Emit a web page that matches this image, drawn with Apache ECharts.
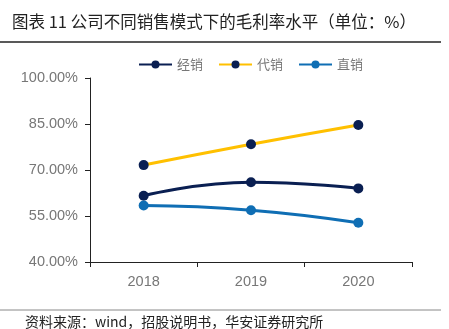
<!DOCTYPE html>
<html><head><meta charset="utf-8">
<script src="https://cdn.jsdelivr.net/npm/echarts@6/dist/echarts.min.js"></script>
<style>html,body{margin:0;padding:0;background:#fff}#c{width:449px;height:329px}</style>
</head><body><div id="c"></div>
<script>
const categories = ['2018', '2019', '2020'];
const seriesNames = ['经销', '代销', '直销'];
const jingxiao = [61.6, 66.0, 64.0];
const daixiao = [71.6, 78.4, 84.7];
const zhixiao = [58.4, 56.9, 52.8];
const yTicks = [40, 55, 70, 85, 100];

const navy = '#0A1F52', yellow = '#FFC000', blue = '#0F6EB4';
const chart = echarts.init(document.getElementById('c'));
const font = '"Liberation Sans", Arial, "Noto Sans CJK SC", sans-serif';
const cjk = '"Noto Sans CJK SC", sans-serif';
chart.setOption({
  animation: false,
  textStyle: {fontFamily: font},
  title: {
    text: '图表 11 公司不同销售模式下的毛利率水平（单位：%）',
    left: 7, top: 8,
    textStyle: {fontSize: 16.5, fontWeight: 'normal', color: '#222', fontFamily: cjk}
  },
  graphic: [
    {type: 'line', shape: {x1: 0, y1: 42, x2: 441, y2: 42}, style: {stroke: '#222', lineWidth: 1.5}},
    {type: 'line', shape: {x1: 0, y1: 310, x2: 441, y2: 310}, style: {stroke: '#888', lineWidth: 1}},
    {type: 'text', left: 25, top: 315, style: {text: '资料来源：wind，招股说明书，华安证券研究所', fontSize: 14, fill: '#222', fontFamily: cjk}}
  ],
  legend: {
    top: 53, left: 133,
    itemWidth: 33, itemHeight: 10, itemGap: 15,
    data: seriesNames,
    textStyle: {color: '#777', fontSize: 13, fontFamily: cjk}
  },
  grid: {left: 90, right: 37, top: 78, bottom: 67},
  xAxis: {
    type: 'category', data: categories, boundaryGap: true,
    axisLine: {lineStyle: {color: '#222', width: 1}},
    axisTick: {show: true, length: 5, lineStyle: {color: '#222'}},
    axisLabel: {color: '#777', fontSize: 14.5, margin: 13}
  },
  yAxis: {
    type: 'value', min: 40, max: 100, interval: 15,
    axisLine: {show: true, lineStyle: {color: '#222', width: 1}},
    axisTick: {show: true, length: 5, lineStyle: {color: '#222'}},
    splitLine: {show: false},
    axisLabel: {color: '#777', fontSize: 14.5, margin: 12, formatter: v => v.toFixed(2) + '%'}
  },
  series: [
    {name: seriesNames[0], type: 'line', smooth: true, data: jingxiao, symbol: 'circle', symbolSize: 10,
     lineStyle: {color: navy, width: 3}, itemStyle: {color: navy}},
    {name: seriesNames[1], type: 'line', smooth: true, data: daixiao, symbol: 'circle', symbolSize: 10,
     lineStyle: {color: yellow, width: 3}, itemStyle: {color: navy}},
    {name: seriesNames[2], type: 'line', smooth: true, data: zhixiao, symbol: 'circle', symbolSize: 10,
     lineStyle: {color: blue, width: 3}, itemStyle: {color: blue}}
  ]
});
</script></body></html>
